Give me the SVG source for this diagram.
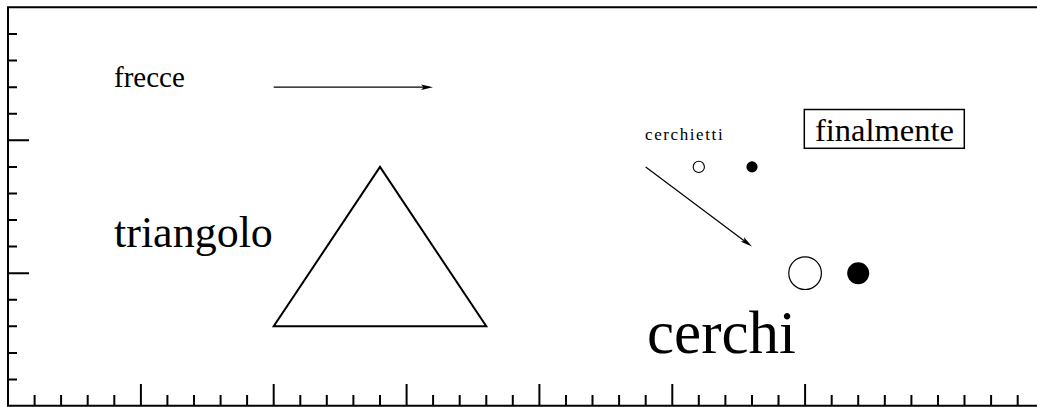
<svg xmlns="http://www.w3.org/2000/svg" width="1037" height="407" viewBox="0 0 1037 407">
<style>
.ax{stroke:#000;stroke-width:2;fill:none;stroke-linecap:butt}
.shape{stroke:#000;stroke-width:2;fill:none;stroke-linejoin:miter}
.conn{stroke:#000;stroke-width:1.2;fill:none}
text{fill:#000}
</style>
<defs>
<marker id="ah" viewBox="0 0 12 6" refX="8" refY="3" markerWidth="12" markerHeight="6" markerUnits="userSpaceOnUse" orient="auto">
<path d="M0,0.2 L12,3 L0,5.8 L2.5,3 Z" fill="#000"/>
</marker>
</defs>
<rect width="1037" height="407" fill="#fff"/>
<g id="frame">
<path class="ax" d="M8,7.2 H1037 M8,6.2 V406 M7,405.8 H1037"/>
<path class="ax" d="M8,379.4 H17 M8,352.9 H17 M8,326.3 H17 M8,299.7 H17 M8,273.2 H29 M8,246.6 H17 M8,220 H17 M8,193.4 H17 M8,166.9 H17 M8,140.3 H29 M8,113.7 H17 M8,87.2 H17 M8,60.6 H17 M8,34 H17"/>
<path class="ax" d="M34.6,406 V395 M61.1,406 V395 M87.7,406 V395 M114.3,406 V395 M140.9,406 V384 M167.4,406 V395 M194,406 V395 M220.6,406 V395 M247.1,406 V395 M273.7,406 V384 M300.3,406 V395 M326.8,406 V395 M353.4,406 V395 M380,406 V395 M406.6,406 V384 M433.1,406 V395 M459.7,406 V395 M486.3,406 V395 M512.8,406 V395 M539.4,406 V384 M566,406 V395 M592.5,406 V395 M619.1,406 V395 M645.7,406 V395 M672.3,406 V384 M698.8,406 V395 M725.4,406 V395 M752,406 V395 M778.5,406 V395 M805.1,406 V384 M831.7,406 V395 M858.2,406 V395 M884.8,406 V395 M911.4,406 V395 M938,406 V395 M964.5,406 V395 M991.1,406 V395 M1017.7,406 V395"/>
</g>
<g id="label-frecce"><text font-family="Liberation Serif, serif" x="114" y="87" font-size="29">frecce</text></g>
<g id="label-triangolo"><text font-family="Liberation Serif, serif" x="114" y="246.6" font-size="44">triangolo</text></g>
<g id="triangle"><polygon class="shape" points="273.7,326.3 486.3,326.3 380,166.9"/></g>
<g id="label-cerchietti"><text font-family="Liberation Serif, serif" x="645" y="139.5" font-size="17" letter-spacing="1.6">cerchietti</text></g>
<g id="finalmente">
<rect x="804.3" y="109.5" width="160" height="38.8" fill="none" stroke="#000" stroke-width="1.5"/>
<text font-family="Liberation Serif, serif" x="815" y="141" font-size="32.5">finalmente</text>
</g>
<g id="small-open-circle"><circle cx="698.8" cy="166.9" r="5.6" fill="none" stroke="#000" stroke-width="1.1"/></g>
<g id="small-filled-circle"><circle cx="752" cy="166.9" r="5.6" fill="#000"/></g>
<g id="big-open-circle"><circle cx="805.1" cy="273.2" r="16.3" fill="none" stroke="#000" stroke-width="1.2"/></g>
<g id="big-filled-circle"><circle cx="858.2" cy="273.2" r="11" fill="#000"/></g>
<g id="label-cerchi"><text font-family="Liberation Serif, serif" x="647" y="352.5" font-size="61">cerchi</text></g>
<g id="connectors">
<line class="conn" x1="273.7" y1="87.2" x2="429.1" y2="87.2" stroke-width="1.6" marker-end="url(#ah)"/>
<line class="conn" x1="645.7" y1="166.9" x2="748.8" y2="244.2" marker-end="url(#ah)"/>
</g>
</svg>
